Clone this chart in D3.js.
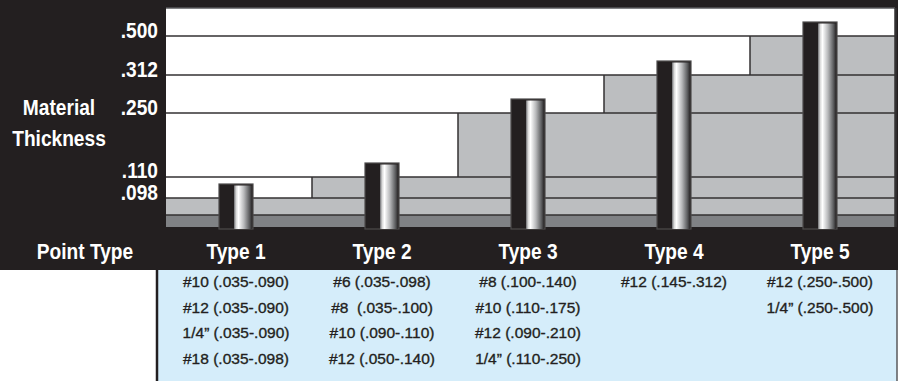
<!DOCTYPE html>
<html>
<head>
<meta charset="utf-8">
<script src="https://cdn.jsdelivr.net/npm/d3@7"></script>
<style>
    body { margin: 0; background: #fff; }
    svg { display: block; }
    .hdr { font-family: "Liberation Sans", Arial, sans-serif; font-weight: bold; fill: #fff; font-size: 21.5px; }
    .cell { font-family: "Liberation Sans", Arial, sans-serif; font-size: 15.5px; fill: #231f20; stroke: #231f20; stroke-width: 0.35px; }
</style>
</head>
<body>
<svg id="chart"></svg>
<script>
// chart values
var pointTypes = ["Type 1", "Type 2", "Type 3", "Type 4", "Type 5"];
var stepLevels = [0.098, 0.110, 0.250, 0.312, 0.500];
var minThickness = 0.035;
var tickValues = [0.500, 0.312, 0.250, 0.110, 0.098];
var tickLabels = [".500", ".312", ".250", ".110", ".098"];
var studSizes = [
    ["#10 (.035-.090)", "#12 (.035-.090)", "1/4\u201D (.035-.090)", "#18 (.035-.098)"],
    ["#6 (.035-.098)", "#8  (.035-.100)", "#10 (.090-.110)", "#12 (.050-.140)"],
    ["#8 (.100-.140)", "#10 (.110-.175)", "#12 (.090-.210)", "1/4\u201D (.110-.250)"],
    ["#12 (.145-.312)"],
    ["#12 (.250-.500)", "1/4\u201D (.250-.500)"]
];

var width = 900,
    height = 381,
    plotLeft = 166,
    plotRight = 895,
    plotTop = 8,
    plotBottom = 227,
    darkBottom = 270,
    squeeze = 0.89; // condensed look for the white headings

var dark = "#231f20",
    lineCol = "#333132",
    lightGray = "#bcbec0",
    midGray = "#808285",
    tableBlue = "#d5edfa";

var svg = d3.select("#chart")
    .attr("width", width)
    .attr("height", height);

// stepped, non linear thickness axis
var y = d3.scaleLinear()
    .domain([0, minThickness, 0.098, 0.110, 0.250, 0.312, 0.500, 0.560])
    .range([plotBottom, 215, 198, 177, 113, 75, 36, plotTop]);

var x = d3.scaleBand()
    .domain(pointTypes)
    .range([plotLeft, plotRight + 1])
    .padding(0);

function mid(d) {
    return x(d) + x.bandwidth() / 2 - 3;
}

var defs = svg.append("defs");
var grad = defs.append("linearGradient")
    .attr("id", "rod")
    .attr("x1", "0%").attr("x2", "100%");
[["0%", "#6d6e71"], ["12%", "#d9d9d9"], ["25%", "#ffffff"], ["55%", "#b8b9bb"], ["85%", "#5e5f61"], ["100%", "#2b2829"]]
    .forEach(function (s) {
        grad.append("stop").attr("offset", s[0]).attr("stop-color", s[1]);
    });

// dark frame
svg.append("rect")
    .attr("x", 0).attr("y", 0)
    .attr("width", 898).attr("height", darkBottom)
    .style("fill", dark);

// table area
svg.append("rect")
    .attr("x", 157).attr("y", darkBottom)
    .attr("width", 740).attr("height", height - darkBottom)
    .style("fill", tableBlue);
svg.append("line")
    .attr("x1", 157).attr("x2", 157)
    .attr("y1", darkBottom).attr("y2", height)
    .style("stroke", dark).style("stroke-width", 2.5);
svg.append("line")
    .attr("x1", 897).attr("x2", 897)
    .attr("y1", darkBottom).attr("y2", height)
    .style("stroke", "#58595b").style("stroke-width", 1.5);

// plot
var g = svg.append("g");

g.append("rect")
    .attr("x", plotLeft).attr("y", plotTop)
    .attr("width", plotRight - plotLeft).attr("height", plotBottom - plotTop)
    .style("fill", "#fff");

g.selectAll("rect.step")
    .data(pointTypes)
    .enter()
    .append("rect")
    .attr("class", "step")
    .attr("x", function (d) { return x(d); })
    .attr("width", x.bandwidth())
    .attr("y", function (d, i) { return y(stepLevels[i]); })
    .attr("height", function (d, i) { return y(minThickness) - y(stepLevels[i]); })
    .style("fill", lightGray);

g.append("rect")
    .attr("x", plotLeft).attr("y", y(minThickness))
    .attr("width", plotRight - plotLeft).attr("height", plotBottom - y(minThickness))
    .style("fill", midGray);

// level lines
g.selectAll("line.level")
    .data(tickValues.concat([minThickness]))
    .enter()
    .append("line")
    .attr("class", "level")
    .attr("x1", plotLeft).attr("x2", plotRight)
    .attr("y1", function (d) { return y(d); })
    .attr("y2", function (d) { return y(d); })
    .style("stroke", lineCol)
    .style("stroke-width", 1.5);

g.append("line")
    .attr("x1", plotLeft).attr("x2", plotRight)
    .attr("y1", plotTop).attr("y2", plotTop)
    .style("stroke", "#58595b")
    .style("stroke-width", 1.5);

// risers between steps
g.selectAll("line.riser")
    .data(pointTypes.slice(1))
    .enter()
    .append("line")
    .attr("class", "riser")
    .attr("x1", function (d) { return x(d); })
    .attr("x2", function (d) { return x(d); })
    .attr("y1", function (d, i) { return y(stepLevels[i + 1]); })
    .attr("y2", function (d, i) { return y(stepLevels[i]); })
    .style("stroke", lineCol)
    .style("stroke-width", 1.5);

g.append("line")
    .attr("x1", plotRight + 0.5).attr("x2", plotRight + 0.5)
    .attr("y1", plotTop).attr("y2", plotBottom)
    .style("stroke", lineCol)
    .style("stroke-width", 2.5);

// rods
var rodW = 34, rodCap = 14, rodShade = 15;
var rods = g.selectAll("g.rod")
    .data(pointTypes)
    .enter()
    .append("g")
    .attr("class", "rod")
    .attr("transform", function (d) {
        return "translate(" + (mid(d) - rodW / 2) + ",0)";
    });

rods.append("rect")
    .attr("x", 0)
    .attr("width", rodW)
    .attr("y", function (d, i) { return y(stepLevels[i]) - rodCap; })
    .attr("height", function (d, i) { return plotBottom + 2 - y(stepLevels[i]) + rodCap; })
    .style("fill", dark)
    .style("stroke", "#4d4b4c")
    .style("stroke-width", 1.2);

rods.append("rect")
    .attr("x", rodShade)
    .attr("width", rodW - rodShade - 1)
    .attr("y", function (d, i) { return y(stepLevels[i]) - rodCap + 1.5; })
    .attr("height", function (d, i) { return plotBottom + 2 - y(stepLevels[i]) + rodCap - 1.5; })
    .style("fill", "url(#rod)");

// white heading text, squeezed horizontally
function heading(px, py, anchor, txt) {
    svg.append("text")
        .attr("class", "hdr")
        .attr("transform", "translate(" + px + "," + py + ") scale(" + squeeze + ",1)")
        .attr("text-anchor", anchor)
        .text(txt);
}

// tick labels: sit just under their line, pushed up if they would collide
var tickY = tickValues.map(function (d) { return y(d) + 2; });
for (var i = tickY.length - 2; i >= 0; i--) {
    tickY[i] = Math.min(tickY[i], tickY[i + 1] - 22);
}
tickValues.forEach(function (d, i) {
    heading(158, tickY[i], "end", tickLabels[i]);
});

heading(59, 115, "middle", "Material");
heading(59, 146, "middle", "Thickness");
heading(85, 259, "middle", "Point Type");

pointTypes.forEach(function (d) {
    heading(mid(d), 259, "middle", d);
});

// stud size table
var cols = svg.selectAll("g.col")
    .data(studSizes)
    .enter()
    .append("g")
    .attr("class", "col")
    .attr("transform", function (d, i) {
        return "translate(" + mid(pointTypes[i]) + ",0)";
    });

cols.selectAll("text")
    .data(function (d) { return d; })
    .enter()
    .append("text")
    .attr("class", "cell")
    .attr("x", 0)
    .attr("y", function (d, i) { return 287 + i * 25.7; })
    .attr("text-anchor", "middle")
    .style("white-space", "pre")
    .text(function (d) { return d; });
</script>
</body>
</html>
